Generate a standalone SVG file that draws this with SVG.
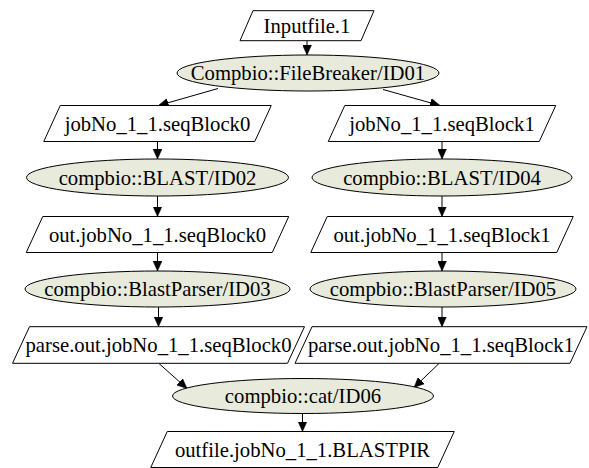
<svg xmlns="http://www.w3.org/2000/svg" width="589" height="468" viewBox="0 0 589 468">
<defs>
<style>
.box{fill:#ffffff;stroke:#000000;stroke-width:1}
.proc{fill:#e8eadc;stroke:#000000;stroke-width:1}
.lbl{font-family:'Liberation Serif','Times New Roman',serif;font-size:20.7px;fill:#000000;text-anchor:middle}
.edge{fill:none;stroke:#000000;stroke-width:1;marker-end:url(#arr)}
</style>
<marker id="arr" markerUnits="userSpaceOnUse" markerWidth="10" markerHeight="9" refX="10" refY="4.5" orient="auto">
<path d="M0,0 L10,4.5 L0,9 z" fill="#000000" stroke="#000000" stroke-width="0.5"/>
</marker>
</defs>
<rect width="589" height="468" fill="#ffffff"/>
<g id="edges">
<path class="edge" d="M307,40.7 L307,55"/>
<path class="edge" d="M218,88.5 L158.5,105.5"/>
<path class="edge" d="M383,89.5 L440,105.5"/>
<path class="edge" d="M157.5,141.5 L157.5,159"/>
<path class="edge" d="M442,141.5 L442,159"/>
<path class="edge" d="M157.5,196 L157.5,216.5"/>
<path class="edge" d="M442,196 L442,216.5"/>
<path class="edge" d="M157.5,252.5 L157.5,271"/>
<path class="edge" d="M442,252.5 L442,271"/>
<path class="edge" d="M158.5,307 L158.5,326.7"/>
<path class="edge" d="M442,307 L442,326.7"/>
<path class="edge" d="M159,363.5 L187,388.5"/>
<path class="edge" d="M439,363.5 L414,387.5"/>
<path class="edge" d="M302.5,413.5 L302.5,431.5"/>
</g>
<g id="n_inputfile">
<polygon class="box" points="253,10.7 374,10.7 361,40.7 240,40.7"/>
<text class="lbl" x="307" y="32.7">Inputfile.1</text>
</g>
<g id="n_id01">
<ellipse class="proc" cx="308" cy="73" rx="131" ry="18"/>
<text class="lbl" x="308" y="80">Compbio::FileBreaker/ID01</text>
</g>
<g id="n_seqblock0">
<polygon class="box" points="60.25,105.5 271.25,105.5 254.75,141.5 43.75,141.5"/>
<text class="lbl" x="157.5" y="130.5">jobNo_1_1.seqBlock0</text>
</g>
<g id="n_seqblock1">
<polygon class="box" points="344.75,105.5 555.75,105.5 539.25,141.5 328.25,141.5"/>
<text class="lbl" x="442" y="130.5">jobNo_1_1.seqBlock1</text>
</g>
<g id="n_id02">
<ellipse class="proc" cx="157.5" cy="177.5" rx="131" ry="18.5"/>
<text class="lbl" x="157.5" y="184.5">compbio::BLAST/ID02</text>
</g>
<g id="n_id04">
<ellipse class="proc" cx="442" cy="177.5" rx="130" ry="18.5"/>
<text class="lbl" x="442" y="184.5">compbio::BLAST/ID04</text>
</g>
<g id="n_out0">
<polygon class="box" points="42.75,216.5 288.75,216.5 272.25,252.5 26.25,252.5"/>
<text class="lbl" x="157.5" y="241.5">out.jobNo_1_1.seqBlock0</text>
</g>
<g id="n_out1">
<polygon class="box" points="327.25,216.5 573.25,216.5 556.75,252.5 310.75,252.5"/>
<text class="lbl" x="442" y="241.5">out.jobNo_1_1.seqBlock1</text>
</g>
<g id="n_id03">
<ellipse class="proc" cx="157.5" cy="289" rx="132.5" ry="18"/>
<text class="lbl" x="157.5" y="296">compbio::BlastParser/ID03</text>
</g>
<g id="n_id05">
<ellipse class="proc" cx="443" cy="289" rx="133" ry="18"/>
<text class="lbl" x="443" y="296">compbio::BlastParser/ID05</text>
</g>
<g id="n_parse0">
<polygon class="box" points="29.5,326.7 304.5,326.7 287.5,363.3 12.5,363.3"/>
<text class="lbl" x="158.5" y="352">parse.out.jobNo_1_1.seqBlock0</text>
</g>
<g id="n_parse1">
<polygon class="box" points="312,326.7 587,326.7 570,363.3 295,363.3"/>
<text class="lbl" x="441" y="352">parse.out.jobNo_1_1.seqBlock1</text>
</g>
<g id="n_id06">
<ellipse class="proc" cx="303" cy="396" rx="130.5" ry="17.5"/>
<text class="lbl" x="303" y="403">compbio::cat/ID06</text>
</g>
<g id="n_outfile">
<polygon class="box" points="167.25,431.5 454.25,431.5 437.75,467.5 150.75,467.5"/>
<text class="lbl" x="302.5" y="456.5">outfile.jobNo_1_1.BLASTPIR</text>
</g>
</svg>
